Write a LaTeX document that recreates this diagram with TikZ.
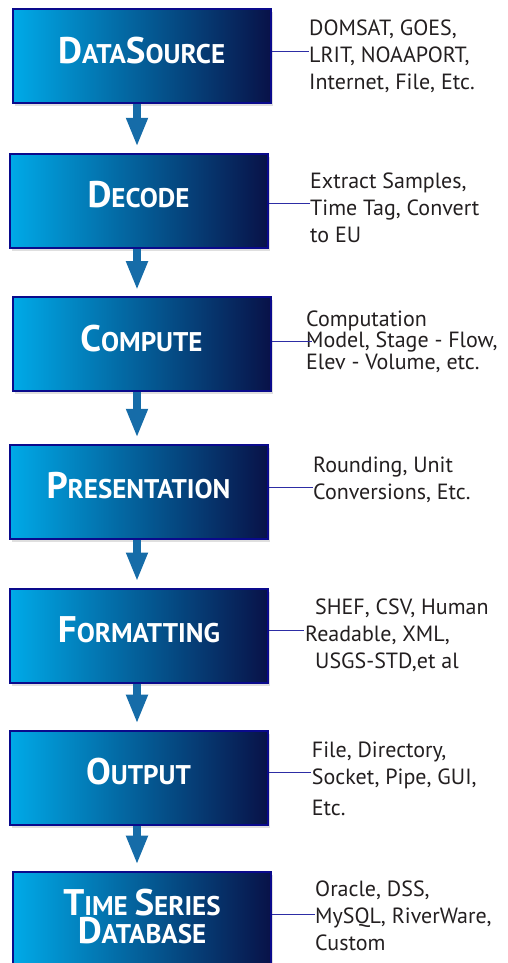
\documentclass[tikz,border=0pt]{standalone}
\usepackage{fontspec}
\setmainfont{PT Sans}
\usetikzlibrary{arrows.meta,shadows}
\definecolor{boxcyan}{RGB}{0,170,232}
\definecolor{boxnavy}{RGB}{8,18,72}
\definecolor{boxrim}{RGB}{10,10,140}
\definecolor{flowblue}{RGB}{22,108,168}
\definecolor{linkblue}{RGB}{45,45,165}
\definecolor{notegray}{RGB}{35,31,32}
\newcommand{\capl}[2]{{\fontsize{37}{37}\selectfont #1}\MakeUppercase{#2}}
\tikzset{
    stage/.style={rectangle, draw=boxrim, line width=2pt, left color=boxcyan,
    	right color=boxnavy, minimum width=258pt, minimum height=94pt,
    	text=white, font=\bfseries\fontsize{27}{28}\selectfont, align=center,
    	text height=25pt, text depth=11pt,
    	drop shadow={shadow xshift=2pt, shadow yshift=-3pt, opacity=.25}}
}
\tikzset{
    note/.style={anchor=base west, inner sep=0pt, align=left, text=notegray,
    	font=\fontsize{22}{27}\selectfont}
}
\tikzset{
    flow/.style={draw=flowblue, line width=8pt,
    	-{Triangle[width=20pt,length=29pt]}, shorten >=6pt},
    link/.style={draw=linkblue, line width=1pt}
}

\begin{document}
\begin{tikzpicture}[x=1pt, y=-1pt]
	\useasboundingbox (0,0) rectangle (508,963);
	\coordinate (spine) at (137,0);
	\node [stage] (b1) at (141.7,56.3) {\capl{D}{ata}\capl{S}{ource}};
	\node [stage] (b2) at (138.5,200.8) {\capl{D}{ecode}};
	\node [stage] (b3) at (141.5,344.2) {\capl{C}{ompute}};
	\node [stage] (b4) at (138.5,491.8) {\capl{P}{resentation}};
	\node [stage] (b5) at (139,635.5) {\capl{F}{ormatting}};
	\node [stage] (b6) at (138.5,777.7) {\capl{O}{utput}};
	\node [stage, text height=52pt, text depth=3pt] (b7) at (142,918.7)
		{\capl{T}{ime} \capl{S}{eries}\\\capl{D}{atabase}};
	\node [note] (n1) at (309,90) {DOMSAT, GOES,\\LRIT, NOAAPORT,\\Internet, File, Etc.};
	\node [note] (n2) at (310,242.7) {Extract Samples,\\Time Tag, Convert\\to EU};
	\node [note, font=\fontsize{22}{21.3}\selectfont] (n3) at (306,369)
		{Computation\\Model, Stage - Flow,\\Elev - Volume, etc.};
	\node [note] (n4) at (313,499.3) {Rounding, Unit\\Conversions, Etc.};
	\node [note] (n5) at (315,668.3) {SHEF, CSV, Human\\\hspace*{-10pt}Readable, XML,\\USGS-STD,et al};
	\node [note] (n6) at (311.7,815.7) {File, Directory,\\Socket, Pipe, GUI,\\[4pt]Etc.};
	\node [note] (n7) at (315,950) {Oracle, DSS,\\MySQL, RiverWare,\\Custom};
	\coordinate (k1) at (309,52);
	\coordinate (k2) at (310,203);
	\coordinate (k3) at (312,341);
	\coordinate (k4) at (313,487.3);
	\coordinate (k5) at (304,630);
	\coordinate (k6) at (311,772.7);
	\coordinate (k7) at (315,914);
	\draw (b1.south -| spine) edge [flow] (b2.north -| spine);
	\draw (b2.south -| spine) edge [flow] (b3.north -| spine);
	\draw (b3.south -| spine) edge [flow] (b4.north -| spine);
	\draw (b4.south -| spine) edge [flow] (b5.north -| spine);
	\draw (b5.south -| spine) edge [flow] (b6.north -| spine);
	\draw (b6.south -| spine) edge [flow] (b7.north -| spine);
	\draw (b1.east |- k1) edge [link] (k1); \draw (b2.east |- k2) edge [link] (k2);
	\draw (b3.east |- k3) edge [link] (k3); \draw (b4.east |- k4) edge [link] (k4);
	\draw (b5.east |- k5) edge [link] (k5); \draw (b6.east |- k6) edge [link] (k6);
	\draw (b7.east |- k7) edge [link] (k7);
\end{tikzpicture}
\end{document}
